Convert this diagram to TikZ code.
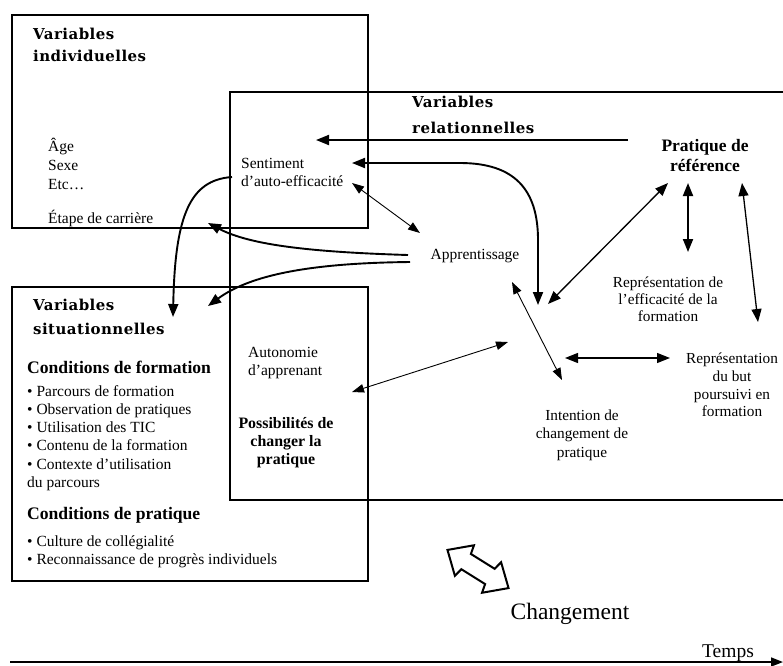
\documentclass[tikz,border=0pt]{standalone}
\usepackage{fontspec}
\setmainfont{Liberation Serif}
\newfontfamily\headfont[LetterSpace=3]{DejaVu Serif}
\usetikzlibrary{arrows.meta}
\tikzset{
  txt/.style={inner sep=0pt, align=center, font=\fontsize{15.5}{18}\selectfont},
  hd/.style={inner sep=0pt, align=left, anchor=west},
  boxline/.style={line width=2pt},
  bigtip/.tip={Triangle[length=13pt,width=10pt]},
  arrOne/.style={line width=1.9pt, -bigtip},
  arrTwo/.style={line width=1.9pt, bigtip-bigtip},
  arrMid/.style={line width=1.3pt, bigtip-bigtip},
  arrThin/.style={line width=0.9pt, {Triangle[length=12pt,width=8.5pt]}-{Triangle[length=12pt,width=8.5pt]}},
}
\begin{document}
\begin{tikzpicture}[x=1pt,y=-1pt]
\useasboundingbox (0,0) rectangle (783,665);
\fill[white] (0,0) rectangle (783,665);

% boxes
\draw[boxline] (12,15) rectangle (368,228);
\draw[boxline] (12,287) rectangle (368,581);
\draw[boxline] (784,92) -- (230,92) -- (230,500) -- (784,500);

% headings
\node[hd, font=\headfont\bfseries\fontsize{15}{22}\selectfont] (hInd) at (33,45) {Variables\\individuelles};
\node[hd, font=\headfont\bfseries\fontsize{15}{26}\selectfont] (hRel) at (412,115) {Variables\\relationnelles};
\node[hd, font=\headfont\bfseries\fontsize{15}{24}\selectfont] (hSit) at (33,317) {Variables\\situationnelles};

% individual variables
\node[txt, align=left, anchor=west, font=\fontsize{15.5}{19}\selectfont] (age) at (48,164) {Âge\\Sexe\\Etc…};
\node[txt, anchor=west] (etape) at (48,218) {Étape de carrière};

% relational
\node[txt, align=left, anchor=west] (sent) at (241,172) {Sentiment\\d’auto-efficacité};
\node[txt] (app) at (475,256) {Apprentissage};
\node[txt, font=\bfseries\fontsize{17.5}{20}\selectfont] (prat) at (705,156) {Pratique de\\référence};
\node[txt, font=\fontsize{15.3}{17}\selectfont] (repEff) at (668,299) {Représentation de\\l’efficacité de la\\formation};
\node[txt, font=\fontsize{15.3}{17.7}\selectfont] (repBut) at (732,385) {Représentation\\du but\\poursuivi en\\formation};
\node[txt, font=\fontsize{15.3}{18.5}\selectfont] (inten) at (582,435) {Intention de\\changement de\\pratique};
\node[txt, align=left, anchor=west] (auto) at (248,363) {Autonomie\\d’apprenant};
\node[txt, font=\bfseries\fontsize{15.9}{18}\selectfont] (poss) at (286,443) {Possibilités de\\changer la\\pratique};

% situational
\node[txt, anchor=west, font=\bfseries\fontsize{17.6}{20}\selectfont] (condF) at (27,367) {Conditions de formation};
\node[txt, align=left, anchor=west, font=\fontsize{15.5}{18.2}\selectfont] (listF) at (27,438) {• Parcours de formation\\• Observation de pratiques\\• Utilisation des TIC\\• Contenu de la formation\\• Contexte d’utilisation\\du parcours};
\node[txt, anchor=west, font=\bfseries\fontsize{17.6}{20}\selectfont] (condP) at (27,515) {Conditions de pratique};
\node[txt, align=left, anchor=west, font=\fontsize{15.5}{17.5}\selectfont] (listP) at (27,552) {• Culture de collégialité\\• Reconnaissance de progrès individuels};

\node[txt, font=\fontsize{23.5}{26}\selectfont] (chg) at (570,614) {Changement};
\node[txt, font=\fontsize{19.5}{22}\selectfont] (temps) at (728,653) {Temps};

% connector end points
\coordinate (a1s) at (628,140); \coordinate (a1e) at (316,140);
\coordinate (a2s) at (352,163); \coordinate (a2m) at (460,163); \coordinate (a2e) at (538,305);
\coordinate (a3s) at (232,177); \coordinate (a3e) at (173,317);
\coordinate (a4s) at (408,255); \coordinate (a4e) at (208,223);
\coordinate (a5s) at (410,262); \coordinate (a5e) at (208,306);
\coordinate (a6s) at (352,183); \coordinate (a6e) at (420,233);
\coordinate (a7s) at (668,183); \coordinate (a7e) at (548,304);
\coordinate (a8s) at (688,183); \coordinate (a8e) at (688,252);
\coordinate (a9s) at (742,183); \coordinate (a9e) at (758,322);
\coordinate (a10s) at (565,358); \coordinate (a10e) at (670,358);
\coordinate (a11s) at (512,282); \coordinate (a11e) at (562,380);
\coordinate (a12s) at (352,392); \coordinate (a12e) at (508,342);
\coordinate (t0) at (10,662); \coordinate (t1) at (783,662);

% connectors
\draw[arrOne] (a1s) -- (a1e);
\draw[arrTwo] (a2s) -- (a2m) .. controls (515,163) and (538,190) .. (538,240) -- (a2e);
\draw[arrOne] (a3s) .. controls (190,180) and (175,215) .. (a3e);
\draw[arrOne] (a4s) .. controls (310,252) and (250,245) .. (a4e);
\draw[arrOne] (a5s) .. controls (310,263) and (250,275) .. (a5e);
\draw[arrThin] (a6s) -- (a6e);
\draw[arrMid] (a7s) -- (a7e);
\draw[arrTwo] (a8s) -- (a8e);
\draw[arrMid] (a9s) -- (a9e);
\draw[arrMid] (a10s) -- (a10e);
\draw[arrThin] (a11s) -- (a11e);
\draw[arrThin] (a12s) -- (a12e);
\draw[line width=1.5pt, -{Triangle[length=12pt,width=9pt]}] (t0) -- (t1);

% hollow double arrow
\draw[line width=2pt, line join=miter, shift={(478,569)}, rotate=-32]
  (36,0) -- (16,18) -- (14,9) -- (-14,9) -- (-16,18) -- (-36,0) -- (-16,-18) -- (-14,-9) -- (14,-9) -- (16,-18) -- cycle;
\end{tikzpicture}
\end{document}
